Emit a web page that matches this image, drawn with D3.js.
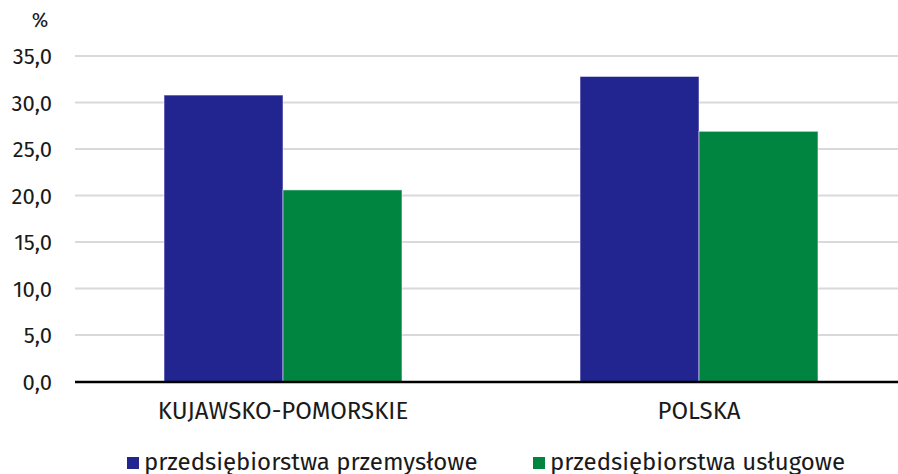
<!DOCTYPE html>
<html>
<head>
<meta charset="utf-8">
<script src="https://cdn.jsdelivr.net/npm/d3@7"></script>
<style>
  body { margin: 0; background: #fff; }
  text { font-family: "Fira Sans", "Open Sans", sans-serif; fill: #1a1a1a; }
</style>
</head>
<body>
<div id="chart"></div>
<script>
(function() {
  'use strict'

  // data //
  var categories = ["KUJAWSKO-POMORSKIE", "POLSKA"]
  var seriesNames = ["przedsiębiorstwa przemysłowe", "przedsiębiorstwa usługowe"]
  var przemyslowe = [30.8, 32.8]
  var uslugowe = [20.6, 26.9]
  var yTicks = [0, 5, 10, 15, 20, 25, 30, 35]
  var colors = ["#222590", "#008540"]

  var width = 898, height = 474

  var svg = d3.select("#chart").append("svg")
    .attr("width", width)
    .attr("height", height)

  var rows = categories.map(function(c, i) {
    return { cat: c, values: [przemyslowe[i], uslugowe[i]] }
  })

  // scales //
  var y = d3.scaleLinear()
    .domain([0, 35])
    .range([381.5, 56])

  var x0 = d3.scaleBand()
    .domain(categories)
    .range([75, 907])
    .paddingInner(0.428)
    .paddingOuter(0.214)

  var x1 = d3.scaleBand()
    .domain(d3.range(seriesNames.length))
    .range([0, x0.bandwidth()])

  var fmt = function(d) { return d3.format(".1f")(d).replace(".", ",") }

  // gridlines //
  svg.append("g")
    .selectAll("line")
    .data(yTicks.filter(function(d) { return d > 0 }))
    .enter().append("line")
    .attr("x1", 75).attr("x2", width)
    .attr("y1", function(d) { return y(d) })
    .attr("y2", function(d) { return y(d) })
    .style("stroke", "#d9d9d9")
    .style("stroke-width", 2)

  // y axis labels //
  var yAxis = d3.axisLeft(y).tickValues(yTicks).tickFormat(fmt).tickSize(0).tickPadding(0)
  var gy = svg.append("g")
    .attr("transform", "translate(52,0)")
    .call(yAxis)
  gy.select(".domain").remove()
  gy.selectAll("text")
    .attr("dy", "0.35em")
    .style("font-family", '"Fira Sans", "Open Sans", sans-serif')
    .style("font-size", "22px")
    .style("fill", "#1a1a1a")

  svg.append("text")
    .attr("x", 40).attr("y", 27)
    .attr("text-anchor", "middle")
    .style("font-size", "20px")
    .text("%")

  // bars //
  var groups = svg.append("g")
    .selectAll("g")
    .data(rows)
    .enter().append("g")
    .attr("transform", function(d) { return "translate(" + x0(d.cat) + ",0)" })

  groups.selectAll("rect")
    .data(function(d) { return d.values })
    .enter().append("rect")
    .attr("x", function(d, i) { return x1(i) })
    .attr("width", x1.bandwidth())
    .attr("y", function(d) { return y(d) })
    .attr("height", function(d) { return y(0) - y(d) })
    .style("fill", function(d, i) { return colors[i] })
    .style("stroke", "#ffffff")
    .style("stroke-opacity", 0.5)
    .style("stroke-width", 1)

  // baseline //
  svg.append("line")
    .attr("x1", 75).attr("x2", width)
    .attr("y1", y(0) + 0.5).attr("y2", y(0) + 0.5)
    .style("stroke", "#000")
    .style("stroke-width", 2.5)

  // category labels //
  var xAxis = d3.axisBottom(x0).tickSize(0).tickPadding(0)
  var gx = svg.append("g")
    .attr("transform", "translate(0,419)")
    .call(xAxis)
  gx.select(".domain").remove()
  gx.selectAll("text")
    .attr("dy", 0)
    .style("font-family", '"Fira Sans", "Open Sans", sans-serif')
    .style("font-size", "24px")
    .style("fill", "#1a1a1a")

  // legend //
  var legendX = [127, 533]
  var legend = svg.append("g")
    .selectAll("g")
    .data(seriesNames)
    .enter().append("g")
    .attr("transform", function(d, i) { return "translate(" + legendX[i] + ",457)" })

  legend.append("rect")
    .attr("width", 12).attr("height", 12)
    .style("fill", function(d, i) { return colors[i] })

  legend.append("text")
    .attr("x", 17).attr("y", 12.5)
    .style("font-size", "24px")
    .text(function(d) { return d })
})()
</script>
</body>
</html>
